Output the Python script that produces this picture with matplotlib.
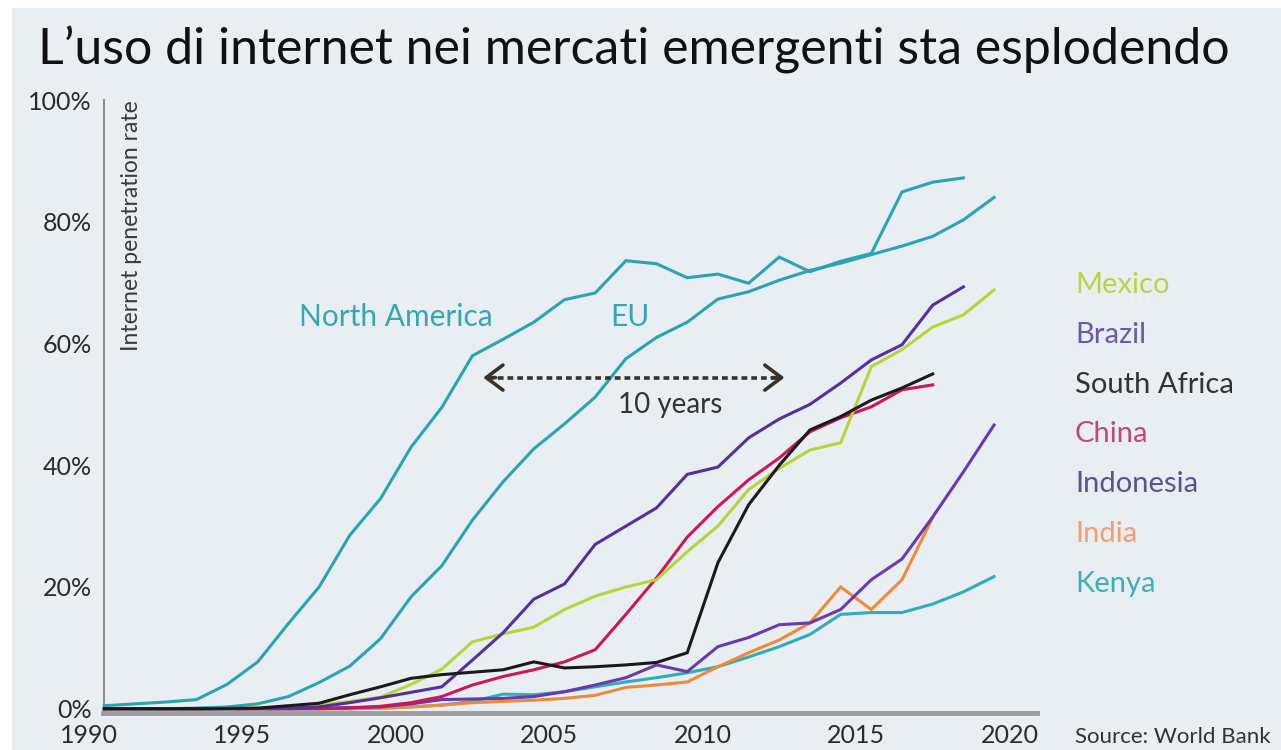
import numpy as np
import matplotlib
matplotlib.use("Agg")
import matplotlib.pyplot as plt
from matplotlib.patches import Rectangle

nan = np.nan

# ---------------- data ----------------
years = list(range(1990, 2020))

north_america = [0.5, 0.8, 1.1, 1.5, 4.0, 7.7, 14.0, 20.0, 28.5, 34.5, 43.0, 49.5, 58.0, 60.7, 63.5,
                 67.2, 68.3, 73.6, 73.1, 70.8, 71.4, 69.9, 74.2, 71.8, 73.5, 74.8, 84.9, 86.5, 87.2, nan]
eu = [0, 0, 0, 0.1, 0.3, 0.8, 2.0, 4.3, 7.0, 11.5, 18.4, 23.5, 31.0, 37.3, 42.7,
      46.8, 51.2, 57.5, 61.0, 63.5, 67.3, 68.5, 70.4, 72.0, 73.2, 74.6, 76.0, 77.6, 80.3, 84.0]
mexico = [0, 0, 0, 0, 0, 0.1, 0.2, 0.6, 1.2, 1.9, 4.0, 6.5, 11.0, 12.3, 13.4,
          16.3, 18.5, 20.0, 21.2, 25.8, 30.0, 36.0, 39.5, 42.5, 43.7, 56.2, 59.0, 62.7, 64.7, 68.8]
brazil = [0, 0, 0, 0, 0, 0.05, 0.1, 0.3, 1.0, 1.8, 2.7, 3.6, 8.0, 12.5, 18.0,
          20.5, 27.0, 30.0, 33.0, 38.5, 39.7, 44.5, 47.6, 50.0, 53.5, 57.3, 59.8, 66.3, 69.3, nan]
south_africa = [0, 0, 0, 0, 0.05, 0.1, 0.5, 0.9, 2.3, 3.6, 5.0, 5.6, 6.0, 6.4, 7.7,
                6.7, 6.9, 7.2, 7.6, 9.2, 24.0, 33.5, 40.0, 45.8, 48.0, 50.7, 52.7, 55.0, nan, nan]
china = [0, 0, 0, 0, 0, 0, 0, 0, 0.1, 0.4, 1.0, 2.0, 3.9, 5.3, 6.4,
         7.7, 9.7, 15.5, 21.5, 28.2, 33.2, 37.6, 41.2, 45.5, 47.8, 49.6, 52.4, 53.2, nan, nan]
indonesia = [0, 0, 0, 0, 0, 0, 0, 0.1, 0.2, 0.3, 0.8, 1.5, 1.6, 1.7, 2.0,
             2.8, 3.9, 5.1, 7.2, 6.1, 10.2, 11.7, 13.8, 14.1, 16.3, 21.2, 24.6, 31.5, 38.9, 46.6]
india = [0, 0, 0, 0, 0, 0, 0, 0, 0, 0.1, 0.3, 0.6, 1.0, 1.2, 1.4,
         1.7, 2.2, 3.5, 3.9, 4.4, 6.9, 9.2, 11.3, 14.1, 20.0, 16.3, 21.2, 31.4, nan, nan]
kenya = [0, 0, 0, 0, 0, 0, 0, 0, 0, 0.1, 0.3, 0.6, 1.2, 2.4, 2.3,
         2.8, 3.6, 4.4, 5.1, 5.9, 6.9, 8.5, 10.2, 12.2, 15.5, 15.8, 15.8, 17.2, 19.2, 21.7]

label_names = ["Mexico", "Brazil", "South Africa", "China", "Indonesia", "India", "Kenya"]
x_ticks = [1990, 1995, 2000, 2005, 2010, 2015, 2020]
y_ticks = [0, 20, 40, 60, 80, 100]

title = "L\u2019uso di internet nei mercati emergenti sta esplodendo"

# ---------------- style ----------------
BG = "#e9eef3"
TEAL = "#2aa3b3"
colors = {
    "Kenya": "#30adbb",
    "India": "#f08a3a",
    "Indonesia": "#6a3aab",
    "China": "#c8175d",
    "South Africa": "#1a1a1a",
    "Brazil": "#56309a",
    "Mexico": "#b6d53a",
}
label_colors = {
    "Mexico": "#b9d44a",
    "Brazil": "#6b58a6",
    "South Africa": "#333333",
    "China": "#c2477a",
    "Indonesia": "#5c5290",
    "India": "#f0a070",
    "Kenya": "#3ab0b8",
}

plt.rcParams["font.family"] = ["Lato", "DejaVu Sans"]

W, H = 1281, 750
fig = plt.figure(figsize=(W / 100, H / 100), dpi=100)
fig.patch.set_facecolor("white")
fig.patches.append(Rectangle((12 / W, 0), 1 - 12 / W, 1 - 8 / H, transform=fig.transFigure,
                             facecolor=BG, edgecolor="none", zorder=-10))

X0, X1 = 1990.0, 2020.9
ax = fig.add_axes([89 / W, (H - 713) / H, (1037 - 89) / W, (713 - 100) / H])
ax.set_facecolor("none")

x = np.array(years) + 0.5  # annual values plotted at mid-year

series = [
    ("Kenya", kenya), ("India", india), ("Indonesia", indonesia),
    ("China", china), ("Mexico", mexico), ("Brazil", brazil), ("South Africa", south_africa),
]
ax.plot(x, eu, color=TEAL, lw=2.2, solid_joinstyle="miter", zorder=3)
ax.plot(x, north_america, color=TEAL, lw=2.2, solid_joinstyle="miter", zorder=3)
for name, vals in series:
    ax.plot(x, vals, color=colors[name], lw=2.2, solid_joinstyle="miter", zorder=3)

ax.set_xticks(x_ticks)
ax.set_xticklabels([str(t) for t in x_ticks])
ax.set_yticks(y_ticks)
ax.set_yticklabels([f"{t}%" for t in y_ticks])
ax.set_xlim(X0, X1)
ax.set_ylim(-0.7, 100)

for s in ["top", "right"]:
    ax.spines[s].set_visible(False)
ax.spines["left"].set_position(("data", 1990.5))
ax.spines["left"].set_color("#8d8f92")
ax.spines["left"].set_linewidth(1.5)
ax.spines["bottom"].set_color("#9a9c9f")
ax.spines["bottom"].set_linewidth(3.5)
ax.spines["bottom"].set_bounds(1990.45, X1)

ax.tick_params(axis="both", length=0, colors="#2b2b2b", labelsize=18)
ax.tick_params(axis="y", pad=9)
ax.tick_params(axis="x", pad=8)

# annotations
ax.text(1996.85, 64.4, "North America", color="#36a6b0", fontsize=21.5, va="center", ha="left")
ax.text(2007.0, 64.4, "EU", color="#36a6b0", fontsize=21.5, va="center", ha="left")

y_arrow = 54.4
x_a0, x_a1 = 2002.85, 2012.67
ax.plot([x_a0 + 0.15, x_a1 - 0.15], [y_arrow, y_arrow], color="#3a3129", lw=2.6,
        linestyle=(0, (1.6, 1.1)), zorder=4)
for xa, xb in [(x_a0, x_a0 + 0.4), (x_a1, x_a1 - 0.4)]:
    ax.annotate("", xy=(xa, y_arrow), xytext=(xb, y_arrow),
                arrowprops=dict(arrowstyle="->,head_length=0.6,head_width=0.45", lw=2.6,
                                color="#3a3129", shrinkA=0, shrinkB=0, mutation_scale=20),
                zorder=4)
ax.text(2008.95, 49.9, "10 years", color="#333333", fontsize=20, va="center", ha="center")

# right-side labels
for i, name in enumerate(label_names):
    fig.text(1075 / W, 1 - (285 + 49.8 * i) / H, name, color=label_colors[name], fontsize=21,
             va="center", ha="left")

fig.text(1075 / W, 1 - 737 / H, "Source: World Bank", color="#333333", fontsize=16,
         va="center", ha="left")
fig.text(131 / W, 1 - 100 / H, "Internet penetration rate", color="#3a3a3a", fontsize=16.5,
         rotation=90, va="top", ha="center")
fig.text(38 / W, 1 - 50 / H, title, color="#111111", fontsize=36, va="center", ha="left")

fig.savefig("out.png", dpi=100, facecolor=fig.get_facecolor())
